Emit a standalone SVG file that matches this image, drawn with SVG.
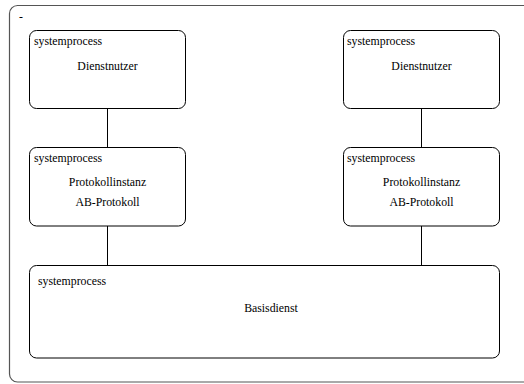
<svg xmlns="http://www.w3.org/2000/svg" width="524" height="384" viewBox="0 0 524 384">
<style>
.frame{fill:#fff;stroke:#555;stroke-width:1.2}
.box{fill:#fff;stroke:#000;stroke-width:1}
.con{stroke:#000;stroke-width:1;fill:none}
.t{font-family:'Liberation Serif',serif;font-size:11.8px;fill:#000}
.c{text-anchor:middle}
</style>
<rect width="524" height="384" fill="#fff"/>
<rect class="frame" x="9.5" y="5.5" width="524" height="376.5" rx="8"/>
<g class="t" font-family="Liberation Serif, serif">
<text x="19" y="20">-</text>
</g>
<g id="connectors">
<line class="con" x1="107.5" y1="108.5" x2="107.5" y2="147.5"/>
<line class="con" x1="421.5" y1="108.5" x2="421.5" y2="147.5"/>
<line class="con" x1="107.5" y1="226" x2="107.5" y2="265.5"/>
<line class="con" x1="421.5" y1="226" x2="421.5" y2="265.5"/>
</g>
<g id="dienstnutzer-links" class="t" font-family="Liberation Serif, serif">
<rect class="box" x="29.5" y="30.5" width="156" height="78" rx="7"/>
<text x="34" y="45">systemprocess</text>
<text class="c" x="107.5" y="70">Dienstnutzer</text>
</g>
<g id="dienstnutzer-rechts" class="t" font-family="Liberation Serif, serif">
<rect class="box" x="343.5" y="30.5" width="156" height="78" rx="7"/>
<text x="347" y="45">systemprocess</text>
<text class="c" x="421.5" y="70">Dienstnutzer</text>
</g>
<g id="protokoll-links" class="t" font-family="Liberation Serif, serif">
<rect class="box" x="29.5" y="147.5" width="156" height="78.5" rx="7"/>
<text x="34" y="162">systemprocess</text>
<text class="c" x="107.5" y="186">Protokollinstanz</text>
<text class="c" x="107.5" y="206">AB-Protokoll</text>
</g>
<g id="protokoll-rechts" class="t" font-family="Liberation Serif, serif">
<rect class="box" x="343.5" y="147.5" width="156" height="78.5" rx="7"/>
<text x="347" y="162">systemprocess</text>
<text class="c" x="421.5" y="186">Protokollinstanz</text>
<text class="c" x="421.5" y="206">AB-Protokoll</text>
</g>
<g id="basisdienst" class="t" font-family="Liberation Serif, serif">
<rect class="box" x="29.5" y="265.5" width="470" height="92.5" rx="7"/>
<text x="38" y="285">systemprocess</text>
<text class="c" x="271" y="312">Basisdienst</text>
</g>
</svg>
